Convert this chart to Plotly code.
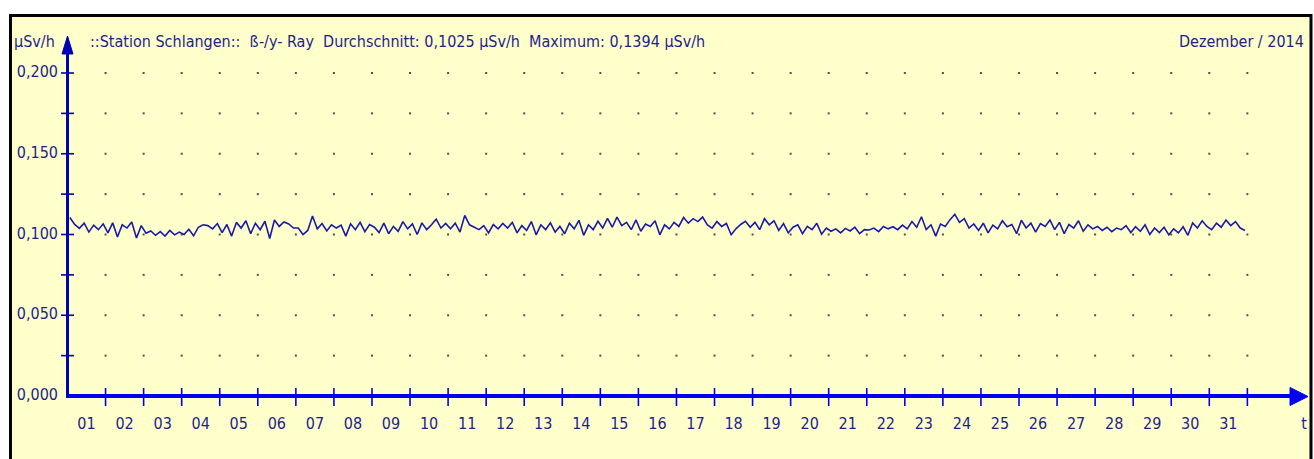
import plotly.graph_objects as go

# ---------------- data ----------------
title_left = "::Station Schlangen::  ß-/y- Ray  Durchschnitt: 0,1025 µSv/h  Maximum: 0,1394 µSv/h"
title_right = "Dezember / 2014"
unit_label = "µSv/h"
axis_t_label = "t"

days = [f"{d:02d}" for d in range(1, 32)]
y_tick_values = [0.000, 0.050, 0.100, 0.150, 0.200]
y_tick_text = ["0,000", "0,050", "0,100", "0,150", "0,200"]
y_minor_values = [0.025, 0.050, 0.075, 0.100, 0.125, 0.150, 0.175, 0.200]

# dose rate readings (µSv/h), 8 readings per day
week1 = [
    0.1105, 0.1062, 0.1038, 0.1070, 0.1015, 0.1058, 0.1030, 0.1066,
    0.1010, 0.1072, 0.0985, 0.1060, 0.1040, 0.1078, 0.0978, 0.1055,
    0.1008, 0.1022, 0.0995, 0.1018, 0.0990, 0.1025, 0.0998, 0.1015,
    0.1000, 0.1032, 0.0992, 0.1045, 0.1060, 0.1055, 0.1035, 0.1068,
    0.1012, 0.1062, 0.0990, 0.1075, 0.1040, 0.1085, 0.1005, 0.1070,
    0.1030, 0.1082, 0.0975, 0.1090, 0.1050, 0.1078, 0.1065, 0.1040,
    0.1040, 0.1000, 0.1025, 0.1115, 0.1035, 0.1068, 0.1022, 0.1060,
]
week2 = [
    0.1040, 0.1058, 0.0990, 0.1066, 0.1030, 0.1075, 0.1018, 0.1062,
    0.1045, 0.1012, 0.1070, 0.1005, 0.1050, 0.1020, 0.1080, 0.1035,
    0.1065, 0.1000, 0.1072, 0.1030, 0.1060, 0.1095, 0.1040, 0.1068,
    0.1035, 0.1070, 0.1015, 0.1118, 0.1060, 0.1045, 0.1030, 0.1055,
    0.1010, 0.1062, 0.1035, 0.1068, 0.1040, 0.1075, 0.1010, 0.1055,
    0.1025, 0.1080, 0.0998, 0.1060, 0.1030, 0.1072, 0.1015, 0.1050,
    0.1005, 0.1070, 0.1035, 0.1088, 0.0995, 0.1060, 0.1030, 0.1082,
]
week3 = [
    0.1040, 0.1100, 0.1045, 0.1108, 0.1055, 0.1075, 0.1030, 0.1090,
    0.1020, 0.1065, 0.1050, 0.1085, 0.0998, 0.1060, 0.1035, 0.1075,
    0.1050, 0.1105, 0.1070, 0.1098, 0.1080, 0.1108, 0.1060, 0.1040,
    0.1080, 0.1050, 0.1068, 0.0998, 0.1035, 0.1062, 0.1082, 0.1045,
    0.1075, 0.1030, 0.1098, 0.1060, 0.1085, 0.1025, 0.1068, 0.1010,
    0.1045, 0.1060, 0.1005, 0.1050, 0.1030, 0.1070, 0.1002, 0.1040,
    0.1020, 0.1035, 0.1010, 0.1038, 0.1022, 0.1045, 0.1005, 0.1030,
]
week4 = [
    0.1028, 0.1040, 0.1018, 0.1050, 0.1035, 0.1048, 0.1030, 0.1058,
    0.1035, 0.1080, 0.1045, 0.1110, 0.1030, 0.1060, 0.0990, 0.1065,
    0.1050, 0.1092, 0.1125, 0.1075, 0.1098, 0.1040, 0.1065, 0.1025,
    0.1070, 0.1010, 0.1058, 0.1035, 0.1085, 0.1048, 0.1062, 0.1005,
    0.1088, 0.1040, 0.1070, 0.1015, 0.1068, 0.1050, 0.1090, 0.1030,
    0.1075, 0.1005, 0.1062, 0.1040, 0.1085, 0.1020, 0.1060, 0.1035,
    0.1050, 0.1025, 0.1045, 0.1018, 0.1040, 0.1030, 0.1055, 0.1012,
]
week5 = [
    0.1048, 0.1020, 0.1060, 0.1000, 0.1040, 0.1012, 0.1045, 0.0998,
    0.1035, 0.1010, 0.1048, 0.0995, 0.1072, 0.1040, 0.1085, 0.1050,
    0.1030, 0.1070, 0.1045, 0.1090, 0.1055, 0.1080, 0.1040, 0.1025,
]
readings = week1 + week2 + week3 + week4 + week5

# ---------------- geometry (pixel mapping, in window pixels) ----------------
W, H = 1314, 459
X0_PX, PX_PER_DAY = 67.5, 38.06
Y0_PX, PX_PER_UNIT = 396.0, 1615.0


def xd(px):
    return (px - X0_PX) / PX_PER_DAY


def yd(py):
    return (Y0_PX - py) / PX_PER_UNIT


BG = "#FFFFCC"
AXIS_BLUE = "#0000F0"
YAXIS_BLUE = "#0000B4"
LINE_BLUE = "#1A1AA8"
TEXT_BLUE = "#1E1E8C"
FONT = "Liberation Sans Narrow, DejaVu Sans Condensed, Arial Narrow, Liberation Sans, sans-serif"
FS = 16

fig = go.Figure()

# dotted grid (isolated dots at day boundaries and every 0.025)
gx, gy = [], []
for d in range(1, 32):
    for v in y_minor_values:
        gx.append(d)
        gy.append(v)
fig.add_trace(go.Scatter(x=gx, y=gy, mode="markers",
                         marker=dict(symbol="square", size=2, color="#505050", line=dict(width=0)),
                         hoverinfo="skip", showlegend=False))

# data line
n = len(readings)
xs = [(i + 0.5) * 31 / n for i in range(n)]
fig.add_trace(go.Scatter(x=xs, y=readings, mode="lines",
                         line=dict(color=LINE_BLUE, width=1.6),
                         showlegend=False, name="µSv/h"))

# x ticks crossing the axis
tx, ty = [], []
for d in range(1, 32):
    tx += [d, d, None]
    ty += [yd(388), yd(406), None]
fig.add_trace(go.Scatter(x=tx, y=ty, mode="lines", line=dict(color=AXIS_BLUE, width=1.6),
                         hoverinfo="skip", showlegend=False))
# y ticks crossing the axis
tx, ty = [], []
for v in y_minor_values:
    tx += [xd(61), xd(74), None]
    ty += [v, v, None]
fig.add_trace(go.Scatter(x=tx, y=ty, mode="lines", line=dict(color=YAXIS_BLUE, width=1.6),
                         hoverinfo="skip", showlegend=False))

# y tick labels
fig.add_trace(go.Scatter(x=[xd(58)] * len(y_tick_values), y=y_tick_values, mode="text",
                         text=y_tick_text, textposition="middle left",
                         textfont=dict(family=FONT, size=FS, color=TEXT_BLUE),
                         hoverinfo="skip", showlegend=False))
# x tick labels (centred in each day)
fig.add_trace(go.Scatter(x=[d - 0.5 for d in range(1, 32)] + [xd(1304)],
                         y=[yd(425)] * 32, mode="text",
                         text=days + [axis_t_label], textposition="middle center",
                         textfont=dict(family=FONT, size=FS, color=TEXT_BLUE),
                         hoverinfo="skip", showlegend=False))

shapes = [
    # panel background + frame
    dict(type="rect", xref="x", yref="y", x0=xd(10.5), x1=xd(1311), y0=yd(475), y1=yd(15.5),
         fillcolor=BG, line=dict(color="black", width=3), layer="below"),
    # x axis line
    dict(type="line", xref="x", yref="y", x0=xd(66), x1=xd(1292), y0=0, y1=0,
         line=dict(color=AXIS_BLUE, width=4)),
    # y axis line
    dict(type="line", xref="x", yref="y", x0=0, x1=0, y0=yd(397), y1=yd(50),
         line=dict(color=YAXIS_BLUE, width=3)),
    # arrows
    dict(type="path", xref="x", yref="y",
         path=f"M {xd(1290)},{yd(387.5)} L {xd(1308)},{yd(396.5)} L {xd(1290)},{yd(405.5)} Z",
         fillcolor=AXIS_BLUE, line=dict(color=AXIS_BLUE, width=1)),
    dict(type="path", xref="x", yref="y",
         path=f"M {xd(62)},{yd(54)} L {xd(67.5)},{yd(36)} L {xd(73)},{yd(54)} Z",
         fillcolor=YAXIS_BLUE, line=dict(color=YAXIS_BLUE, width=1)),
]

annotations = [
    dict(x=xd(12), y=yd(41), xref="x", yref="y", text=unit_label, showarrow=False,
         xanchor="left", yanchor="middle", font=dict(family=FONT, size=FS, color=TEXT_BLUE)),
    dict(x=xd(88), y=yd(41), xref="x", yref="y", text=title_left.replace("  ", "&nbsp; "),
         showarrow=False, xanchor="left", yanchor="middle",
         font=dict(family=FONT, size=FS, color=TEXT_BLUE)),
    dict(x=xd(1306), y=yd(41), xref="x", yref="y", text=title_right, showarrow=False,
         xanchor="right", yanchor="middle", font=dict(family=FONT, size=FS, color=TEXT_BLUE)),
]

fig.update_layout(
    width=W, height=H,
    margin=dict(l=0, r=0, t=0, b=0),
    paper_bgcolor="white", plot_bgcolor="rgba(0,0,0,0)",
    xaxis=dict(range=[xd(0), xd(W)], visible=False, fixedrange=True),
    yaxis=dict(range=[yd(H), yd(0)], visible=False, fixedrange=True),
    shapes=shapes, annotations=annotations,
    showlegend=False,
)

fig.write_html(
    "out.html",
    config={"displayModeBar": False},
    post_script="document.body.style.margin='0';document.body.style.overflow='hidden';",
)
